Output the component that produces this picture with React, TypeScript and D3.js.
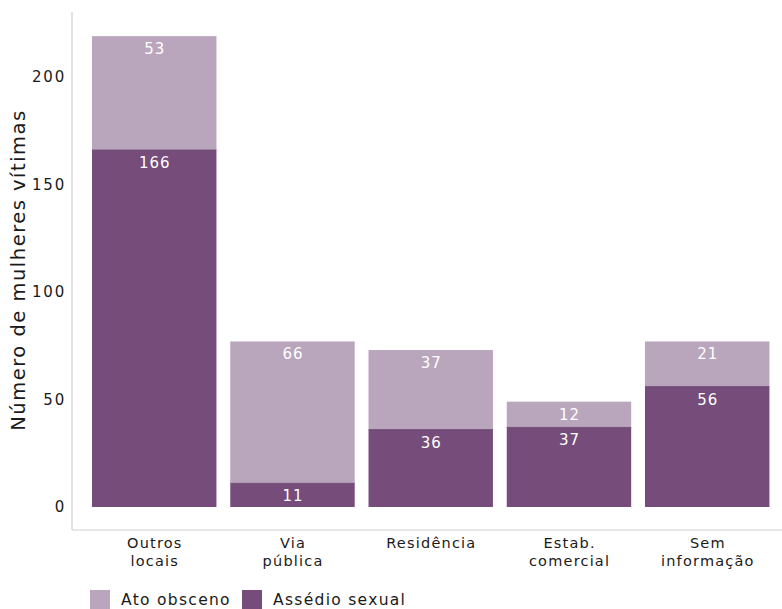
import React from "react";
import * as d3 from "d3";

const categories: string[][] = [
  ["Outros", "locais"],
  ["Via", "pública"],
  ["Residência"],
  ["Estab.", "comercial"],
  ["Sem", "informação"],
];
const assedioSexual = [166, 11, 36, 37, 56];
const atoObsceno = [53, 66, 37, 12, 21];
const yTicks = [0, 50, 100, 150, 200];
const seriesNames = ["Ato obsceno", "Assédio sexual"];

const LIGHT = "#b9a5bc";
const DARK = "#754c7a";
const FONT = "'DejaVu Sans', 'Noto Sans', sans-serif";

export default function App() {
  const W = 782, H = 609;
  const idx = categories.map((_, i) => i);
  const x = d3.scaleBand<number>().domain(idx).range([85.1, 776.35]).paddingInner(0.1).paddingOuter(0.05);
  const y = d3.scaleLinear().domain([0, 200]).range([507, 77]);

  return (
    <svg width={W} height={H} style={{ position: "absolute", left: 0, top: 0 }}>
      <rect width={W} height={H} fill="#fff" />
      <line x1={72} x2={72} y1={12} y2={530} stroke="#cfcfcf" strokeWidth={1.2} />
      <line x1={72} x2={782} y1={530} y2={530} stroke="#cfcfcf" strokeWidth={1.2} />
      {yTicks.map((t) => (
        <text key={t} x={66} y={y(t)} dy="0.35em" textAnchor="end" fontSize={15} letterSpacing={1.8} fontFamily={FONT} fill="#1a1a1a">
          {t}
        </text>
      ))}
      <text
        transform={`translate(25,${270}) rotate(-90)`}
        textAnchor="middle"
        fontSize={19.5}
        letterSpacing={1.5}
        fontFamily={FONT}
        fill="#1a1a1a"
      >
        Número de mulheres vítimas
      </text>
      {idx.map((i) => {
        const bx = x(i)!;
        const bw = x.bandwidth();
        const a = assedioSexual[i];
        const o = atoObsceno[i];
        const cx = bx + bw / 2;
        return (
          <g key={i}>
            <rect x={bx} y={y(a)} width={bw} height={y(0) - y(a)} fill={DARK} />
            <rect x={bx} y={y(a + o)} width={bw} height={y(a) - y(a + o)} fill={LIGHT} />
            <line x1={bx} x2={bx + bw} y1={y(a)} y2={y(a)} stroke="#5e3a63" strokeWidth={0.8} />
            <text x={cx + 0.5} y={y(a + o) + 18} textAnchor="middle" fontSize={15} letterSpacing={1} fontFamily={FONT} fill="#fff">
              {o}
            </text>
            <text x={cx + 0.5} y={y(a) + 18} textAnchor="middle" fontSize={15} letterSpacing={1} fontFamily={FONT} fill="#fff">
              {a}
            </text>
            {categories[i].map((line, j) => (
              <text key={j} x={cx + 0.6} y={548 + j * 17.5} textAnchor="middle" fontSize={14.5} letterSpacing={1.2} fontFamily={FONT} fill="#1a1a1a">
                {line}
              </text>
            ))}
          </g>
        );
      })}
      <rect x={90} y={590} width={20} height={20} fill={LIGHT} />
      <text x={121} y={605} fontSize={15.5} letterSpacing={1.3} fontFamily={FONT} fill="#1a1a1a">{seriesNames[0]}</text>
      <rect x={242} y={590} width={20} height={20} fill={DARK} />
      <text x={273} y={605} fontSize={15.5} letterSpacing={1.3} fontFamily={FONT} fill="#1a1a1a">{seriesNames[1]}</text>
    </svg>
  );
}
